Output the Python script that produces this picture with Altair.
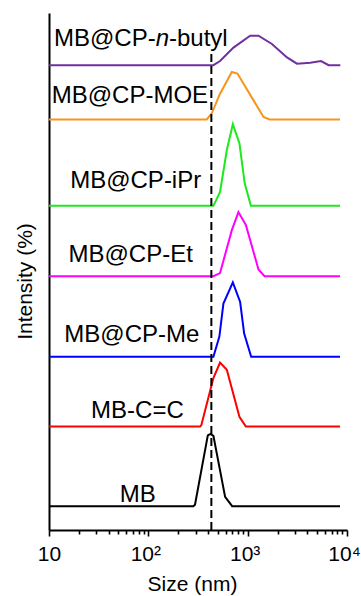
import altair as alt
import pandas as pd

# ---- data ----
series_names = ["MB", "MB-C=C", "MB@CP-Me", "MB@CP-Et", "MB@CP-iPr", "MB@CP-MOE", "MB@CP-n-butyl"]
series_colors = ["#000000", "#FF0000", "#0000FF", "#FF00FF", "#1EE81E", "#F7941D", "#7030A0"]
offsets = [4.6, 20.0, 33.5, 49.1, 62.7, 79.4, 89.9]

mb_size = [10, 284, 295, 397, 423, 452, 593, 698, 8500]
mb_int = [0, 0, 0.3, 13.7, 14.0, 13.6, 1.8, 0, 0]

cc_size = [10, 332, 342, 452, 527, 617, 826, 959, 8500]
cc_int = [0, 0, 0.3, 9.4, 12.4, 11.0, 1.9, 0, 0]

me_size = [10, 452, 519, 570, 709, 840, 922, 1085, 8500]
me_int = [0, 0, 3.9, 10.3, 14.4, 10.6, 4.5, 0, 0]

et_size = [10, 452, 527, 693, 807, 959, 1285, 1478, 8500]
et_int = [0, 0, 0.6, 8.9, 12.4, 9.9, 1.3, 0, 0]

ipr_size = [10, 452, 527, 617, 709, 826, 933, 1077, 8500]
ipr_int = [0, 0, 2.7, 10.8, 15.8, 12.1, 4.4, 0, 0]

moe_size = [10, 387, 435, 527, 693, 789, 1146, 1443, 1659, 8500]
moe_int = [0, 0, 1.2, 5.0, 9.2, 8.9, 3.7, 0.5, 0, 0]

nb_size = [10, 452, 527, 720, 1060, 1285, 1754, 2489, 3134, 4272, 5480, 6536, 8570]
nb_int = [0, 0, 0.8, 3.4, 5.7, 5.7, 4.1, 1.5, 0.3, 0.5, 0.8, 0, 0]

all_sizes = [mb_size, cc_size, me_size, et_size, ipr_size, moe_size, nb_size]
all_ints = [mb_int, cc_int, me_int, et_int, ipr_int, moe_int, nb_int]

# labels (centre size in nm, baseline value)
label_text = ["MB", "MB-C=C", "MB@CP-Me", "MB@CP-Et", "MB@CP-iPr", "MB@CP-MOE"]
label_size = [78.2, 77.6, 68.3, 66.4, 74.6, 65.2]
label_y = [5.5, 21.6, 36.4, 51.9, 66.1, 82.5]

nb_label_parts = ["MB@CP-", "n", "-butyl"]
nb_label_size = 118.6
nb_label_y = 93.6

dash_size = 431
dash_top = 92.5

tick_values = [10, 20, 30, 40, 50, 60, 70, 80, 90,
               100, 200, 300, 400, 500, 600, 700, 800, 900,
               1000, 2000, 3000, 4000, 5000, 6000, 7000, 8000, 9000, 10000]

# ---- build tables ----
rows = []
for name, off, xs, ys in zip(series_names, offsets, all_sizes, all_ints):
    for x, v in zip(xs, ys):
        rows.append({"series": name, "size": x, "value": off + v})
df = pd.DataFrame(rows)

lab_df = pd.DataFrame({"text": label_text, "size": label_size, "y": label_y})
dash_df = pd.DataFrame({"size": [dash_size], "y": [0], "y2": [dash_top]})

FONT = "Liberation Sans"

xscale = alt.Scale(type="log", domain=[10, 10000], nice=False)
yscale = alt.Scale(domain=[0, 100], nice=False, zero=False)

major_test = "datum.value == 10 || datum.value == 100 || datum.value == 1000 || datum.value == 10000"

x_axis = alt.Axis(
    values=tick_values,
    labelExpr="datum.value == 10 ? '10' : datum.value == 100 ? '10²' : datum.value == 1000 ? '10³' : datum.value == 10000 ? '10⁴' : ''",
    grid=False, domainColor="black", domainWidth=2,
    tickColor="black", tickWidth=1.6,
    tickSize={"condition": {"test": major_test, "value": 6}, "value": 4},
    labelOffset={"condition": {"test": "datum.value == 10", "value": 0}, "value": -3},
    labelFont=FONT, labelFontSize=21, labelColor="black", labelPadding=7,
    labelFlush=False, labelOverlap=False,
    title="Size (nm)", titleFont=FONT, titleFontSize=21, titleFontWeight="normal",
    titleColor="black", titleX=143, titleY=60, titleBaseline="alphabetic", titleAlign="center",
)
y_axis = alt.Axis(
    ticks=False, labels=False, grid=False, domainColor="black", domainWidth=2,
    title="Intensity (%)", titleFont=FONT, titleFontSize=21, titleFontWeight="normal",
    titleColor="black", titleAngle=270, titleX=-18, titleY=268,
    titleBaseline="alphabetic", titleAlign="center",
)

lines = alt.Chart(df).mark_line(strokeWidth=2).encode(
    x=alt.X("size:Q", scale=xscale, axis=x_axis),
    y=alt.Y("value:Q", scale=yscale, axis=y_axis),
    color=alt.Color("series:N", scale=alt.Scale(domain=series_names, range=series_colors), legend=None),
    detail="series:N",
)

dash = alt.Chart(dash_df).mark_rule(strokeDash=[8, 4], strokeWidth=2, color="black").encode(
    x=alt.X("size:Q", scale=xscale),
    y=alt.Y("y:Q", scale=yscale),
    y2="y2:Q",
)

labels = alt.Chart(lab_df).mark_text(font=FONT, fontSize=24, color="black", align="center",
                                     baseline="alphabetic").encode(
    x=alt.X("size:Q", scale=xscale),
    y=alt.Y("y:Q", scale=yscale),
    text="text:N",
)

nb_df1 = pd.DataFrame({"text": [nb_label_parts[0]], "size": [nb_label_size], "y": [nb_label_y]})
nb_df2 = pd.DataFrame({"text": [nb_label_parts[1]], "size": [nb_label_size], "y": [nb_label_y]})
nb_df3 = pd.DataFrame({"text": [nb_label_parts[2]], "size": [nb_label_size], "y": [nb_label_y]})

nb1 = alt.Chart(nb_df1).mark_text(font=FONT, fontSize=24, color="black", align="right",
                                  baseline="alphabetic").encode(
    x=alt.X("size:Q", scale=xscale), y=alt.Y("y:Q", scale=yscale), text="text:N")
nb2 = alt.Chart(nb_df2).mark_text(font=FONT, fontSize=24, color="black", align="left",
                                  baseline="alphabetic", fontStyle="italic").encode(
    x=alt.X("size:Q", scale=xscale), y=alt.Y("y:Q", scale=yscale), text="text:N")
nb3 = alt.Chart(nb_df3).mark_text(font=FONT, fontSize=24, color="black", align="left",
                                  baseline="alphabetic", dx=13.3).encode(
    x=alt.X("size:Q", scale=xscale), y=alt.Y("y:Q", scale=yscale), text="text:N")

chart = alt.layer(lines, dash, labels, nb1, nb2, nb3).properties(
    width=298, height=517,
    autosize=alt.AutoSizeParams(type="none"),
    padding={"left": 49, "top": 13, "right": 14, "bottom": 66},
    background="white",
).configure_view(strokeWidth=0)

chart.save("out.html", embed_options={"renderer": "svg", "actions": False})
